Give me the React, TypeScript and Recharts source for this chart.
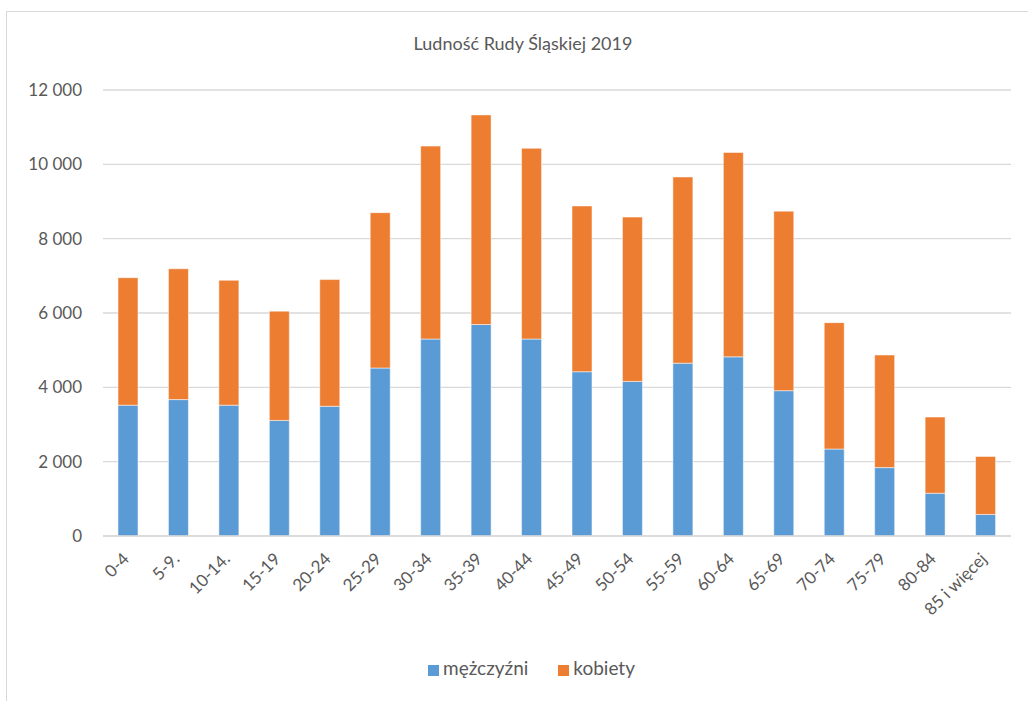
import { BarChart, Bar, XAxis, YAxis, CartesianGrid, Legend } from "recharts";

const ageGroups = [
  "0-4", "5-9.", "10-14.", "15-19", "20-24", "25-29", "30-34", "35-39", "40-44",
  "45-49", "50-54", "55-59", "60-64", "65-69", "70-74", "75-79", "80-84", "85 i więcej",
];
const men = [
  3520, 3670, 3520, 3110, 3490, 4520, 5300, 5690, 5300,
  4420, 4160, 4650, 4820, 3910, 2340, 1840, 1150, 580,
];
const women = [
  3430, 3520, 3360, 2940, 3410, 4180, 5190, 5640, 5130,
  4460, 4420, 5010, 5500, 4830, 3400, 3030, 2050, 1560,
];
const yTicks = [0, 2000, 4000, 6000, 8000, 10000, 12000];

const data = ageGroups.map((group, i) => ({
  group,
  men: men[i],
  women: women[i],
}));

const FONT = "Lato, 'Open Sans', sans-serif";
const TEXT = "#595959";

const formatThousands = (v: number) =>
  v === 0 ? "0" : `${Math.floor(v / 1000)} ${String(v % 1000).padStart(3, "0")}`;

const YTick = (props: any) => {
  const { y, payload } = props;
  return (
    <text x={82} y={y} dy="0.35em" textAnchor="end" fill={TEXT} fontSize={17} fontFamily={FONT}>
      {formatThousands(payload.value)}
    </text>
  );
};

const XTick = (props: any) => {
  const { x, y, payload } = props;
  const ax = x + 2;
  const ay = y + 16;
  return (
    <text
      x={ax}
      y={ay}
      textAnchor="end"
      fill={TEXT}
      fontSize={17}
      fontFamily={FONT}
      transform={`rotate(-45, ${ax}, ${ay})`}
    >
      {payload.value}
    </text>
  );
};

const App = () => {
  return (
    <div style={{ position: "absolute", left: 0, top: 0, width: 1028, height: 701, background: "#fff", overflow: "hidden" }}>
      <div
        style={{
          position: "absolute",
          left: 6,
          top: 11,
          width: 1040,
          height: 720,
          border: "1px solid #D9D9D9",
          boxSizing: "border-box",
        }}
      />
      <div
        style={{
          position: "absolute",
          left: 18,
          top: 32,
          width: 1010,
          textAlign: "center",
          fontFamily: FONT,
          fontSize: 18,
          color: TEXT,
        }}
      >
        Ludność Rudy Śląskiej 2019
      </div>
      <div style={{ position: "absolute", left: 0, top: 0 }}>
        <BarChart
          width={1028}
          height={701}
          data={data}
          margin={{ top: 90, right: 17, left: 0, bottom: 15 }}
          barSize={20}
        >
          <CartesianGrid vertical={false} stroke="#D9D9D9" strokeWidth={1.3} />
          <XAxis
            dataKey="group"
            interval={0}
            height={120}
            tickLine={false}
            axisLine={{ stroke: "#D9D9D9", strokeWidth: 1.5 }}
            tick={<XTick />}
          />
          <YAxis
            width={103}
            domain={[0, 12000]}
            ticks={yTicks}
            tickLine={false}
            axisLine={false}
            tick={<YTick />}
          />
          <Legend
            verticalAlign="bottom"
            align="center"
            iconType="square"
            iconSize={11}
            height={30}
            itemSorter="dataKey"
            wrapperStyle={{ fontFamily: FONT, fontSize: 19, paddingLeft: 31 }}
            formatter={(value, entry: any) => (
              <span style={{ color: TEXT, marginRight: entry?.dataKey === "men" ? 20 : 0 }}>{value}</span>
            )}
          />
          <Bar
            dataKey="men"
            name="mężczyźni"
            stackId="a"
            fill="#5B9BD5"
            stroke="#ffffff"
            strokeOpacity={0.5}
            isAnimationActive={false}
          />
          <Bar
            dataKey="women"
            name="kobiety"
            stackId="a"
            fill="#ED7D31"
            stroke="#ffffff"
            strokeOpacity={0.5}
            isAnimationActive={false}
          />
        </BarChart>
      </div>
    </div>
  );
};

export default App;
